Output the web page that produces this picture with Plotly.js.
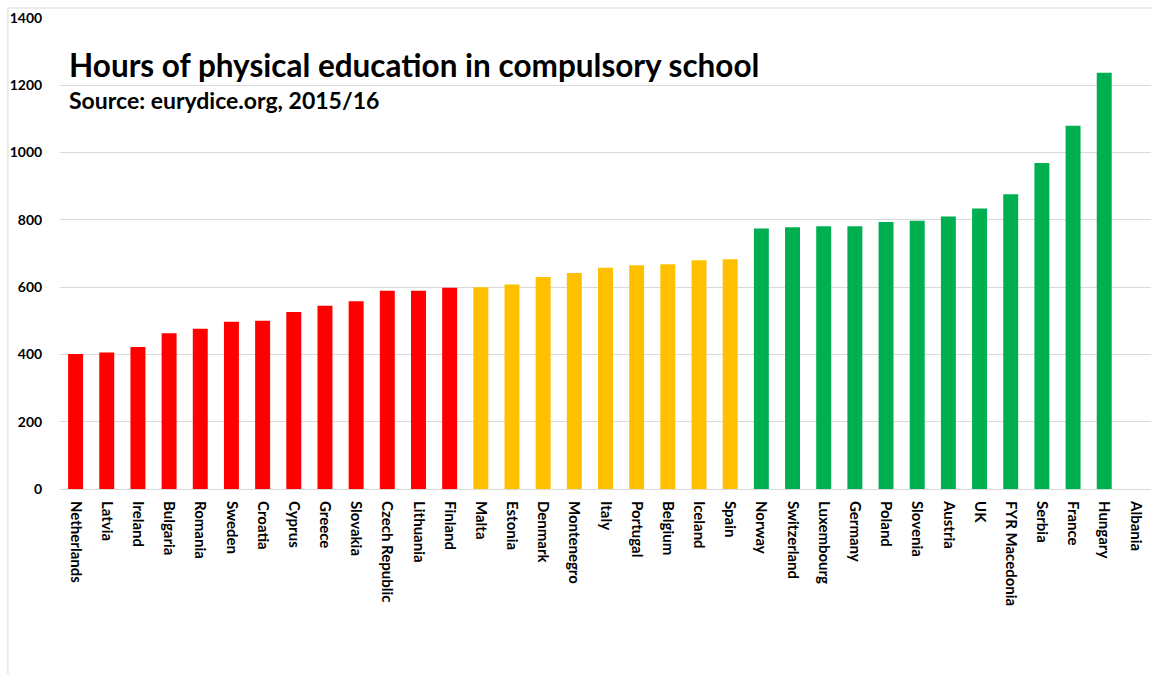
<!DOCTYPE html>
<html>
<head>
<meta charset="utf-8">
<script src="https://cdn.plot.ly/plotly-3.0.1.min.js"></script>
<style>
html,body{margin:0;padding:0;background:#fff;}
#chart{width:1153px;height:674px;}
</style>
</head>
<body>
<div id="chart"></div>
<script>
const countries = ["Netherlands","Latvia","Ireland","Bulgaria","Romania","Sweden","Croatia","Cyprus","Greece","Slovakia","Czech Republic","Lithuania","Finland","Malta","Estonia","Denmark","Montenegro","Italy","Portugal","Belgium","Iceland","Spain","Norway","Switzerland","Luxembourg","Germany","Poland","Slovenia","Austria","UK","FYR Macedonia","Serbia","France","Hungary","Albania"];
const hours = [401,406,422,463,476,497,500,526,545,558,589,589,598,600,608,630,642,658,665,668,680,683,774,778,781,781,794,797,810,834,876,969,1080,1237,null];
const groups = ["low","low","low","low","low","low","low","low","low","low","low","low","low","mid","mid","mid","mid","mid","mid","mid","mid","mid","high","high","high","high","high","high","high","high","high","high","high","high","high"];
const groupColors = {low:"#FF0000", mid:"#FFC000", high:"#00B050"};
const titleText = "Hours of physical education in compulsory school";
const subtitleText = "Source: eurydice.org, 2015/16";

const font = "Lato, 'Open Sans', sans-serif";
const colors = groups.map(g => groupColors[g]);

const trace = {
  type: "bar",
  x: countries,
  y: hours,
  marker: {color: colors, line: {color: colors, width: 0}},
  hoverinfo: "x+y"
};

const layout = {
  width: 1153, height: 674,
  margin: {l: 60, r: 2, t: 18, b: 185},
  paper_bgcolor: "#ffffff", plot_bgcolor: "#ffffff",
  showlegend: false,
  bargap: 0.52,
  font: {family: font, color: "#000"},
  xaxis: {
    type: "category",
    tickangle: 90,
    tickfont: {family: font, size: 15, color: "#000", weight: "bold"},
    showgrid: false, zeroline: false, showline: false,
    ticks: "outside", ticklen: 8, tickcolor: "rgba(0,0,0,0)",
    fixedrange: true
  },
  yaxis: {
    range: [0, 1400], dtick: 200, tick0: 0,
    tickfont: {family: font, size: 14, color: "#000", weight: "bold"},
    showgrid: true, gridcolor: "#d9d9d9", gridwidth: 1,
    zeroline: true, zerolinecolor: "#d9d9d9", zerolinewidth: 1,
    showline: false,
    ticks: "outside", ticklen: 14, tickcolor: "rgba(0,0,0,0)",
    fixedrange: true
  },
  annotations: [
    {text: "<b>" + titleText + "</b>", xref: "paper", yref: "paper", x: 0.0062, y: 0.901,
     xanchor: "left", yanchor: "middle", showarrow: false,
     font: {family: font, size: 31.5, color: "#000"}},
    {text: "<b>" + subtitleText + "</b>", xref: "paper", yref: "paper", x: 0.0062, y: 0.826,
     xanchor: "left", yanchor: "middle", showarrow: false,
     font: {family: font, size: 23, color: "#000"}}
  ],
  shapes: [
    {type: "line", xref: "paper", yref: "paper", x0: -0.0477, x1: 1.01, y0: 1.0212, y1: 1.0212,
     line: {color: "#d9d9d9", width: 1}},
    {type: "line", xref: "paper", yref: "paper", x0: -0.0477, x1: -0.0477, y0: 1.0212, y1: -0.4,
     line: {color: "#d9d9d9", width: 1}}
  ]
};

Plotly.newPlot("chart", [trace], layout, {displayModeBar: false, staticPlot: true});
</script>
</body>
</html>
